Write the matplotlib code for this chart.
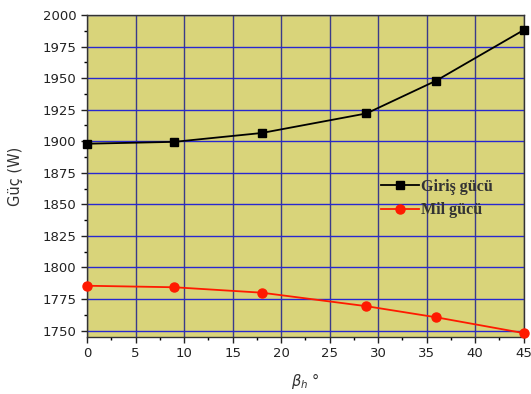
import matplotlib
matplotlib.use('Agg')
import matplotlib.pyplot as plt
from matplotlib.ticker import MultipleLocator

# veri
beta = [0, 9, 18, 28.8, 36, 45]
giris = [1898, 1899.5, 1906.5, 1922, 1948, 1988]
mil = [1785.5, 1784.3, 1780, 1769.3, 1760.5, 1748]

fig = plt.figure(figsize=(5.31, 3.94), dpi=100)
ax = fig.add_axes([0.164, 0.145, 0.822, 0.817])
ax.set_facecolor('#d9d47a')

ax.plot(beta, giris, color='black', lw=1.3, marker='s', ms=5.5, label='Giriş gücü', clip_on=False, zorder=3)
ax.plot(beta, mil, color='#ff1a00', lw=1.3, marker='o', ms=6.5, label='Mil gücü', clip_on=False, zorder=3)

ax.set_xlim(0, 45)
ax.set_ylim(1745, 2000)
ax.xaxis.set_major_locator(MultipleLocator(5))
ax.xaxis.set_minor_locator(MultipleLocator(2.5))
ax.yaxis.set_major_locator(MultipleLocator(25))
ax.yaxis.set_minor_locator(MultipleLocator(12.5))

ax.grid(axis='x', which='major', color='#3a3a8a', lw=1.0)
ax.grid(axis='y', which='major', color='#2828d0', lw=1.0)
ax.set_axisbelow(True)

ax.tick_params(which='major', direction='out', length=4, width=1, labelsize=9.5, colors='#222222')
ax.tick_params(which='minor', direction='out', length=2.5, width=1)
for s in ax.spines.values():
    s.set_linewidth(1.0)
    s.set_color('#333333')

ax.set_ylabel('Güç (W)', fontsize=10.5, color='#333333', labelpad=14)
ax.set_xlabel(r'$\beta_h$ °', fontsize=10.5, color='#333333', labelpad=8)

leg = ax.legend(loc='upper left', bbox_to_anchor=(0.64, 0.535), frameon=False,
                prop={'family': 'Liberation Serif', 'size': 11.5, 'weight': 'bold'},
                handlelength=2.4, handletextpad=0.1, labelspacing=0.45)
for t in leg.get_texts():
    t.set_color('#333333')

fig.savefig('out.png', dpi=100)
